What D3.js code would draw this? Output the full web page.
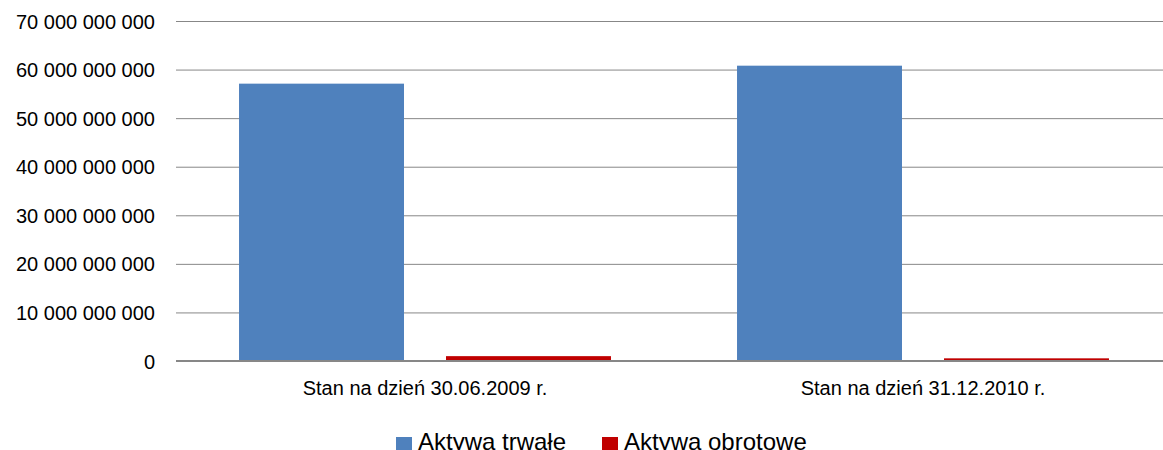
<!DOCTYPE html>
<html>
<head>
<meta charset="utf-8">
<script src="https://cdn.jsdelivr.net/npm/d3@7"></script>
<style>
  body { margin: 0; background: #fff; }
  svg { display: block; font-family: "Liberation Sans", Arial, sans-serif; }
  .axis text { fill: #000; }
</style>
</head>
<body>
<svg id="plot" width="1163" height="450"></svg>
<script>
// chart data
var categories = ['Stan na dzień 30.06.2009 r.', 'Stan na dzień 31.12.2010 r.'];
var seriesNames = ['Aktywa trwałe', 'Aktywa obrotowe'];
var trwale = [57100000000, 60800000000];
var obrotowe = [1000000000, 550000000];
var tickValues = [0, 10e9, 20e9, 30e9, 40e9, 50e9, 60e9, 70e9];
var colors = ['#4F81BD', '#C00000'];

var width = +d3.select('#plot').attr('width');
var height = +d3.select('#plot').attr('height');
// plot area edges (note: "top" is reserved on window, so use other names)
var plotLeft = 176, plotRight = 1172, plotTop = 21, plotBottom = 361;

var svg = d3.select('#plot');

// table built from the arrays
var rows = categories.map(function (c, i) {
  return { cat: c, values: [trwale[i], obrotowe[i]] };
});

var x0 = d3.scaleBand().domain(categories).range([plotLeft, plotRight]);
var x1 = d3.scaleBand().domain(seriesNames)
  .range([0, x0.bandwidth()])
  .paddingInner(0.203)
  .paddingOuter(0.3045);
var y = d3.scaleLinear().domain([0, 70e9]).range([plotBottom, plotTop]);

// numbers with spaces as thousand separators
var fmt = d3.formatLocale({ decimal: ',', thousands: ' ', grouping: [3], currency: ['', ''] }).format(',.0f');

// y axis + gridlines
var yAxis = d3.axisLeft(y)
  .tickValues(tickValues)
  .tickFormat(fmt)
  .tickSizeInner(-(width - plotLeft))
  .tickSizeOuter(0)
  .tickPadding(21);

var gy = svg.append('g')
  .attr('class', 'axis')
  .attr('transform', 'translate(' + plotLeft + ',0)')
  .call(yAxis);
gy.select('.domain').remove();
gy.selectAll('line').attr('stroke', '#878787').attr('stroke-width', 1);
gy.selectAll('text')
  .style('font-size', '20px')
  .attr('dy', '0.35em');

// bars
var groups = svg.selectAll('g.cat')
  .data(rows)
  .enter()
  .append('g')
  .attr('class', 'cat')
  .attr('transform', function (d) { return 'translate(' + x0(d.cat) + ',0)'; });

groups.selectAll('rect')
  .data(function (d) {
    return d.values.map(function (v, i) { return { name: seriesNames[i], value: v, i: i }; });
  })
  .enter()
  .append('rect')
  .attr('x', function (d) { return x1(d.name); })
  .attr('width', x1.bandwidth())
  .attr('y', function (d) { return y(d.value); })
  .attr('height', function (d) { return y(0) - y(d.value); })
  .attr('fill', function (d) { return colors[d.i]; });

// x axis
var xAxis = d3.axisBottom(x0).tickSize(0).tickPadding(20);
var gx = svg.append('g')
  .attr('class', 'axis')
  .attr('transform', 'translate(0,' + y(0) + ')')
  .call(xAxis);
gx.select('.domain')
  .attr('d', 'M' + plotLeft + ',0H' + width)
  .attr('stroke', '#878787')
  .attr('stroke-width', 2);
gx.selectAll('text').style('font-size', '20px');

// legend
var legend = svg.append('g').attr('class', 'legend');
var legendX = [396, 602];
seriesNames.forEach(function (name, i) {
  var g = legend.append('g').attr('transform', 'translate(' + legendX[i] + ',437)');
  g.append('rect').attr('width', 16).attr('height', 16).attr('fill', colors[i]);
  g.append('text')
    .attr('x', 22)
    .attr('y', 13)
    .style('font-size', '24px')
    .attr('fill', '#000')
    .text(name);
});
</script>
</body>
</html>
